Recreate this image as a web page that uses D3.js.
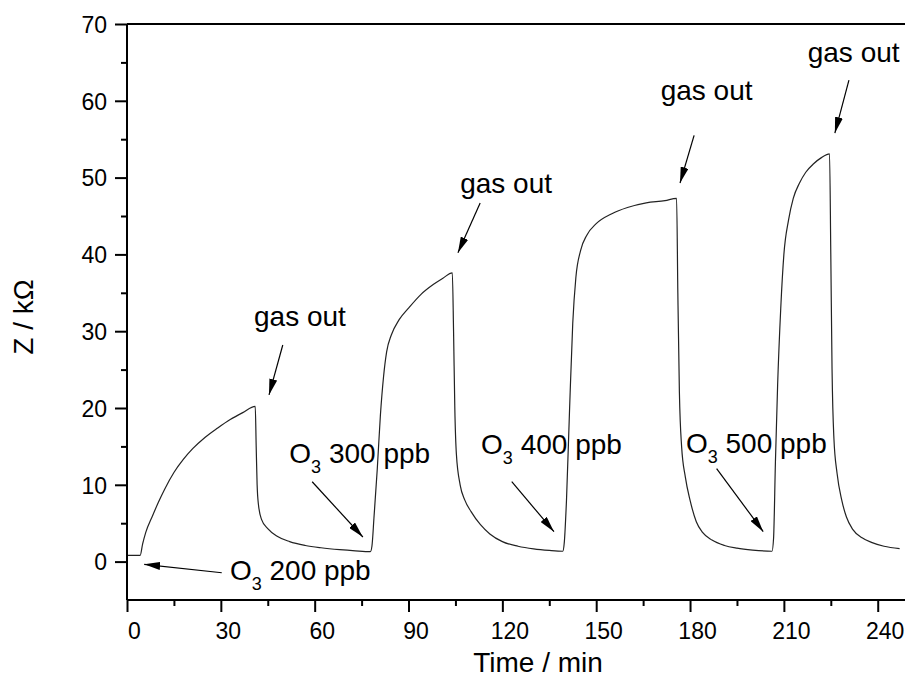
<!DOCTYPE html>
<html>
  <head>
    <meta charset="utf-8">
    <title>Z vs time</title>
    <script type="text/javascript" src="https://d3js.org/d3.v7.min.js"></script>
    <style type="text/css">
      body{ margin:0; background:#fff; }
      svg{ display:block; font-family:"Liberation Sans", Arial, sans-serif; }
    </style>
  </head>
  <body>
    <div id="chart"></div>
    <script type="text/javascript">

      // time (min) and impedance (kOhm)
      var time = [0,4.2,5,6,8,10,12,15,18,21,25,29,33,37,41,
                  41.3,41.6,42,43,45,48,52,57,62,68,73,77.8,
                  78.3,79,80,81,82,83,84.5,87,90,94,98,101,104,
                  104.4,104.8,105.3,106.5,108,110,113,116,120,125,130,135,139.3,
                  139.8,140.5,141.5,142.5,143.5,145,147,150,155,160,166,172,175.7,
                  176.1,176.6,177.3,178.5,180,182,184,187,191,195,200,206.2,
                  206.7,207.3,208,209,210,211.5,213,215,217,219.5,222,224.6,
                  225,225.4,226,227,228.5,230,232,235,238,242,247];
      var imped = [0.8,0.8,2.3,3.8,5.8,7.7,9.4,11.6,13.3,14.7,16.2,17.4,18.5,19.4,20.2,
                   15,10,7.5,5.5,4.3,3.3,2.6,2.1,1.8,1.55,1.4,1.3,
                   2,6,12,19,24,27.3,29.5,31.5,33,34.8,36.1,36.9,37.6,
                   30,20,14,10,8,6.5,4.8,3.6,2.6,2.0,1.65,1.45,1.35,
                   2.5,8,20,31,37,40.5,42.5,44,45.3,46.1,46.7,47.0,47.3,
                   35,22,15,11,8,5.2,3.8,2.8,2.1,1.75,1.5,1.35,
                   3,13,23,33,40,44.5,47.3,49.3,50.7,51.8,52.6,53.1,
                   40,25,16,11.5,8,5.8,4.2,3.1,2.5,2,1.7];

      var xTicks = [0,30,60,90,120,150,180,210,240];
      var yTicks = [0,10,20,30,40,50,60,70];

      // "gas out" labels: text position, arrow start, arrow tip
      var gasText  = [[55.3,30.7],[121.2,48],[185.3,60.1],[232.3,65.0]];
      var gasFrom  = [[49.8,28.2],[112.9,46.7],[181.3,55.5],[230.8,62.7]];
      var gasTip   = [[45.4,21.7],[105.8,40.2],[176.8,49.3],[226.3,55.8]];

      // ozone labels
      var o3Conc  = ["200","300","400","500"];
      var o3Text  = [[32.9,-2.4],[51.9,12.8],[113.2,14.0],[178.7,14.2]];
      var o3From  = [[30.3,-1.45],[59.2,10.4],[123,10.4],[188.5,12.1]];
      var o3Tip   = [[5.5,-0.35],[75.4,3.2],[136.5,3.9],[203.4,3.9]];

      var w = 905;
      var h = 678;

      var x = d3.scaleLinear().domain([0,250]).range([127,909]);
      var y = d3.scaleLinear().domain([-5,70]).range([600,24]);

      var svg = d3.select("#chart")
            .append("svg")
            .attr("width", w)
            .attr("height", h);

      svg.append("defs").append("marker")
          .attr("id","head")
          .attr("markerUnits","userSpaceOnUse")
          .attr("markerWidth",16)
          .attr("markerHeight",8)
          .attr("refX",16)
          .attr("refY",4)
          .attr("orient","auto")
        .append("path")
          .attr("d","M0,0 L16,4 L0,8 Z")
          .attr("fill","#000");

      //curve
      var pts = time.map(function(t,i){ return [t, imped[i]]; });
      var line = d3.line()
            .x(function(d){ return x(d[0]); })
            .y(function(d){ return y(d[1]); })
            .curve(d3.curveMonotoneX);

      svg.append("path")
          .datum(pts)
          .attr("d", line)
          .attr("fill","none")
          .attr("stroke","#222")
          .attr("stroke-width",1.2);

      //bottom axis
      var xAxis = d3.axisBottom(x)
            .tickValues(d3.range(0,250,15))
            .tickSize(6)
            .tickFormat("");
      var gx = svg.append("g").attr("transform","translate(0,"+y(-5)+")").call(xAxis);
      gx.selectAll(".tick line").filter(function(d){ return xTicks.indexOf(d) >= 0; }).attr("y2",12);
      gx.selectAll(".tick").filter(function(d){ return xTicks.indexOf(d) >= 0; })
          .append("text")
          .attr("x",7)
          .attr("y",39)
          .attr("fill","#000")
          .attr("text-anchor","middle")
          .style("font-size","23px")
          .text(function(d){ return d; });

      //left axis
      var yAxis = d3.axisLeft(y)
            .tickValues(d3.range(0,75,5))
            .tickSize(6)
            .tickFormat("");
      var gy = svg.append("g").attr("transform","translate("+x(0)+",0)").call(yAxis);
      gy.selectAll(".tick line").filter(function(d){ return yTicks.indexOf(d) >= 0; }).attr("x2",-12);
      gy.selectAll(".tick").filter(function(d){ return yTicks.indexOf(d) >= 0; })
          .append("text")
          .attr("x",-20)
          .attr("dy","0.36em")
          .attr("fill","#000")
          .attr("text-anchor","end")
          .style("font-size","23px")
          .text(function(d){ return d; });

      svg.selectAll(".domain, .tick line").attr("stroke","#000").attr("stroke-width",2);
      gx.select(".domain").attr("d","M"+x(0)+",0H"+x(250));
      gy.select(".domain").attr("d","M0,"+y(-5)+"V"+y(70));

      //top frame line
      svg.append("line")
          .attr("x1",x(0)).attr("x2",x(250))
          .attr("y1",y(70)).attr("y2",y(70))
          .attr("stroke","#000").attr("stroke-width",2);

      //axis titles
      svg.append("text")
          .attr("x",538).attr("y",672)
          .attr("text-anchor","middle")
          .style("font-size","28px")
          .text("Time / min");

      svg.append("text")
          .attr("transform","translate(33,317) rotate(-90)")
          .attr("text-anchor","middle")
          .style("font-size","28px")
          .text("Z / k\u03A9");

      //annotations
      gasText.forEach(function(p,i){
        svg.append("text")
            .attr("x",x(p[0])).attr("y",y(p[1]))
            .attr("text-anchor","middle")
            .style("font-size","28px")
            .text("gas out");
        svg.append("line")
            .attr("x1",x(gasFrom[i][0])).attr("y1",y(gasFrom[i][1]))
            .attr("x2",x(gasTip[i][0])).attr("y2",y(gasTip[i][1]))
            .attr("stroke","#000").attr("stroke-width",1.2)
            .attr("marker-end","url(#head)");
      });

      o3Text.forEach(function(p,i){
        var t = svg.append("text")
            .attr("x",x(p[0])).attr("y",y(p[1]))
            .style("font-size","28px");
        t.append("tspan").text("O");
        t.append("tspan").attr("dy",10).style("font-size","18px").text("3");
        t.append("tspan").attr("dy",-10).text(" " + o3Conc[i] + " ppb");
        svg.append("line")
            .attr("x1",x(o3From[i][0])).attr("y1",y(o3From[i][1]))
            .attr("x2",x(o3Tip[i][0])).attr("y2",y(o3Tip[i][1]))
            .attr("stroke","#000").attr("stroke-width",1.2)
            .attr("marker-end","url(#head)");
      });

    </script>
  </body>
</html>
